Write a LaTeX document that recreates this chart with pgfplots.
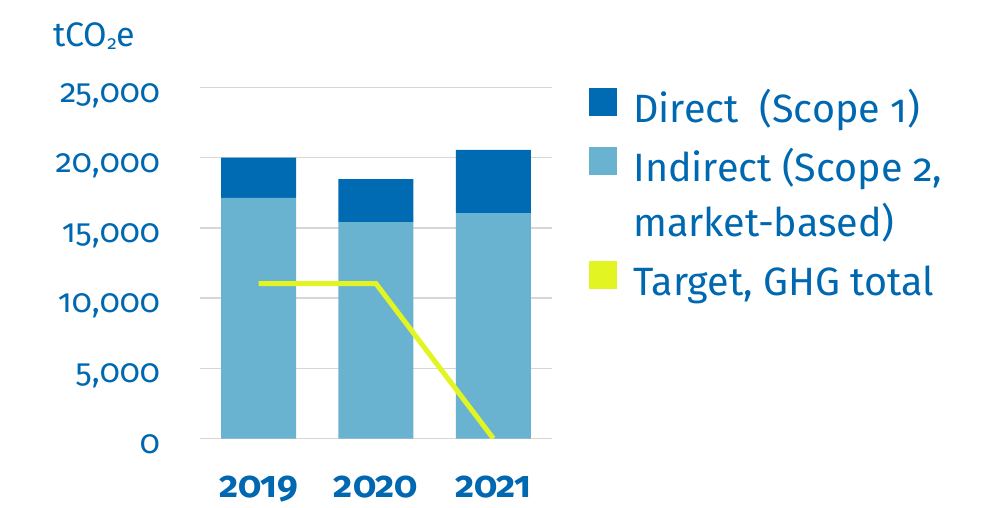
\documentclass[border=0pt]{standalone}
\usepackage{fontspec}
\setmainfont{Fira Sans}[Numbers=OldStyle]
\usepackage{pgfplots}
\pgfplotsset{compat=1.18}
\definecolor{darkblue}{HTML}{006AB3}
\definecolor{lightblue}{HTML}{69B2D0}
\definecolor{target}{HTML}{E2F523}
\definecolor{gridgray}{HTML}{D6D6D2}
\definecolor{textblue}{HTML}{0068B0}

\pgfplotsset{
  base/.style={scale only axis, width=352pt, height=351pt,
    at={(200pt,68.5pt)}, anchor=south west,
    xmin=-0.5, xmax=2.5, ymin=0, ymax=25000},
}

\begin{document}
\begin{tikzpicture}[x=1pt,y=1pt]
\useasboundingbox (0,0) rectangle (1005,507);
\begin{axis}[base, ybar stacked, bar width=75pt,
  axis line style={draw=none}, major tick style={draw=none},
  ymajorgrids, grid style={gridgray, line width=1.3pt},
  xtick={0,1,2}, xticklabels={2019,2020,2021},
  ytick={0,5000,...,25000}, scaled y ticks=false,
  /pgf/number format/.cd, fixed, 1000 sep={,}, assume math mode=true, /pgfplots/.cd,
  xticklabel style={anchor=base, yshift=-58.5pt, text=textblue,
    font=\fontsize{37}{40}\selectfont\bfseries},
  yticklabel style={anchor=base east, inner sep=0pt, xshift=-40pt, yshift=-14.5pt,
    text=textblue, font=\fontsize{33}{36}\selectfont},
  legend cell align=left,
  legend style={at={(axis description cs:1.105,0.9986)}, anchor=north west,
    draw=none, fill=none, inner sep=0pt, outer sep=0pt,
    row sep=15pt, column sep=17pt,
    nodes={text height=30pt, text depth=10pt, inner sep=0pt, text=textblue,
      font=\fontsize{39.5}{42}\selectfont}},
]
% Indirect (Scope 2, market-based)
\addplot[fill=lightblue, draw=none, forget plot] coordinates {(0,17130) (1,15420) (2,16060)};
% Direct (Scope 1)
\addplot[fill=darkblue, draw=none, forget plot] coordinates {(0,2870) (1,3060) (2,4490)};
\addlegendimage{legend image code/.code={\fill[darkblue] (0pt,-3pt) rectangle (27pt,24pt);}}
\addlegendentry{Direct\ \ (Scope 1)}
\addlegendimage{legend image code/.code={\fill[lightblue] (0pt,-3pt) rectangle (27pt,24pt);}}
\addlegendentry{Indirect (Scope 2,}
\addlegendimage{empty legend}
\addlegendentry{market-based)}
\addlegendimage{legend image code/.code={\fill[target] (0pt,-3pt) rectangle (27pt,24pt);}}
\addlegendentry{Target, GHG total}
\end{axis}
\begin{axis}[base, hide axis]
\addplot[target, line width=5pt, sharp plot] coordinates {(0,11030) (1,11030) (2,0)};
\end{axis}
\node[anchor=base west, inner sep=0pt, text=textblue, font=\fontsize{34}{38}\selectfont]
  at (53,460) {tCO\raisebox{-0.15ex}{\fontsize{19}{19}\selectfont 2}e};
\end{tikzpicture}
\end{document}
